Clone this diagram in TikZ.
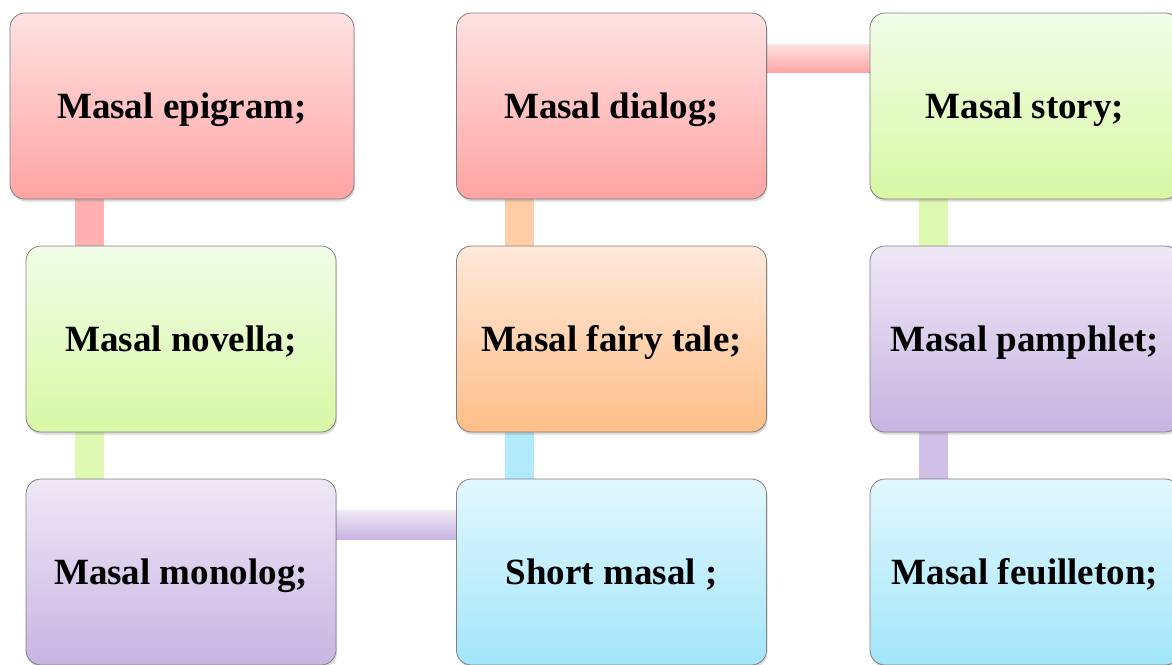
\documentclass[tikz,border=0pt]{standalone}
\usepackage{fontspec}
\setmainfont{Liberation Serif}
\usetikzlibrary{positioning, shadows, backgrounds}

\definecolor{pinkT}{HTML}{FFE2E2}
\definecolor{pinkB}{HTML}{FFA3A3}
\definecolor{greenT}{HTML}{F1FDE8}
\definecolor{greenB}{HTML}{D8F8A4}
\definecolor{purpleT}{HTML}{EEE8F6}
\definecolor{purpleB}{HTML}{C8B4E2}
\definecolor{orangeT}{HTML}{FFE9DA}
\definecolor{orangeB}{HTML}{FFBE88}
\definecolor{blueT}{HTML}{E2F7FD}
\definecolor{blueB}{HTML}{A2E6FA}

\tikzset{
  masal/.style={draw=gray, line width=0.8pt, rounded corners=15pt,
    minimum width=310pt, minimum height=186pt, inner sep=0pt,
    text height=24pt, text depth=0pt,
    font=\fontsize{37}{40}\selectfont\bfseries,
    drop shadow={opacity=0.3, shadow xshift=1pt, shadow yshift=-2.5pt}},
  redbox/.style={masal, top color=pinkT, bottom color=pinkB},
  greenbox/.style={masal, top color=greenT, bottom color=greenB},
  purplebox/.style={masal, top color=purpleT, bottom color=purpleB},
  orangebox/.style={masal, top color=orangeT, bottom color=orangeB},
  bluebox/.style={masal, top color=blueT, bottom color=blueB},
  bar/.style={line width=29pt},
}

\begin{document}
\begin{tikzpicture}[x=1pt, y=-1pt, on grid, node distance=233pt]
  \useasboundingbox (0,0) rectangle (1172,664);
  \clip (0,0) rectangle (1172,664);

  % first column
  \node[redbox, minimum width=344pt] (epigram) at (182,106) {Masal epigram;};
  \node[greenbox, below=of epigram, xshift=-1pt] (novella) {Masal novella;};
  \node[purplebox, below=of novella] (monolog) {Masal monolog;};
  % second column
  \node[redbox, right=429.5pt of epigram] (dialog) {Masal dialog;};
  \node[orangebox, below=of dialog] (fairytale) {Masal fairy tale;};
  \node[bluebox, below=of fairytale] (short) {Short masal ;};
  % third column
  \node[greenbox, right=413.5pt of dialog] (story) {Masal story;};
  \node[purplebox, below=of story] (pamphlet) {Masal pamphlet;};
  \node[bluebox, below=of pamphlet] (feuilleton) {Masal feuilleton;};

  \begin{scope}[on background layer]
    \draw[bar, draw=pinkB!85] ([xshift=63.5pt]novella.north west) -- ([xshift=63.5pt]novella.north west |- epigram.south);
    \draw[bar, draw=greenB!85] ([xshift=63.5pt]monolog.north west) -- ([xshift=63.5pt]monolog.north west |- novella.south);
    \fill[top color=purpleT, bottom color=purpleB] ([yshift=-32pt]monolog.north east) rectangle ([yshift=-61pt]short.north west);
    \draw[bar, draw=blueB!85] ([xshift=63.5pt]short.north west) -- ([xshift=63.5pt]short.north west |- fairytale.south);
    \draw[bar, draw=orangeB!75] ([xshift=63.5pt]fairytale.north west) -- ([xshift=63.5pt]fairytale.north west |- dialog.south);
    \fill[top color=pinkT, bottom color=pinkB] ([yshift=-32pt]dialog.north east) rectangle ([yshift=-60pt]story.north west);
    \draw[bar, draw=greenB!85] ([xshift=63.5pt]pamphlet.north west) -- ([xshift=63.5pt]pamphlet.north west |- story.south);
    \draw[bar, draw=purpleB!85] ([xshift=63.5pt]feuilleton.north west) -- ([xshift=63.5pt]feuilleton.north west |- pamphlet.south);
  \end{scope}
\end{tikzpicture}
\end{document}
